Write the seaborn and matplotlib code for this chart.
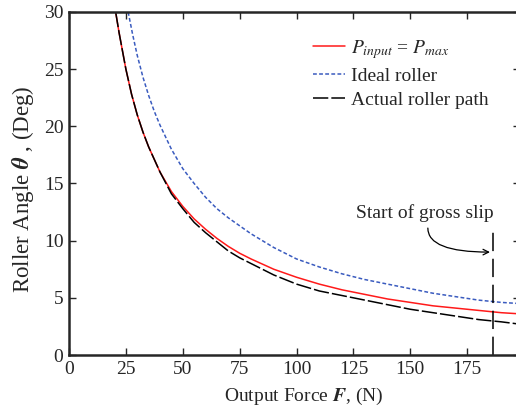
import matplotlib
matplotlib.use("Agg")
import matplotlib.pyplot as plt
import seaborn as sns
import pandas as pd

# values
force_pmax = [20.5, 22, 25, 27.5, 30, 32.5, 35, 40, 45, 50, 55, 60, 65, 70, 75, 80,
              90, 100, 110, 120, 130, 140, 150, 160, 170, 180, 190, 198]
angle_pmax = [30.0, 28.2, 25.0, 22.8, 21.0, 19.5, 18.2, 16.0, 14.3, 13.0, 11.9, 11.0,
              10.2, 9.5, 8.9, 8.4, 7.5, 6.8, 6.2, 5.7, 5.3, 4.9, 4.6, 4.3, 4.1, 3.9,
              3.7, 3.6]

force_ideal = [26, 28, 30, 32.5, 35, 37.5, 40, 45, 50, 55, 60, 65, 70, 75, 80, 90, 100,
               110, 120, 130, 140, 150, 160, 170, 180, 190, 198]
angle_ideal = [30.0, 28.0, 26.2, 24.3, 22.7, 21.3, 20.1, 18.0, 16.3, 15.0, 13.8, 12.8,
               12.0, 11.3, 10.6, 9.4, 8.4, 7.7, 7.1, 6.6, 6.2, 5.8, 5.4, 5.1, 4.8, 4.6,
               4.5]

force_actual = [20.5, 22, 25, 27.5, 30, 32.5, 35, 40, 45, 50, 55, 60, 65, 70, 75, 80,
                90, 100, 110, 120, 130, 140, 150, 160, 170, 180, 190, 198]
angle_actual = [30.0, 28.2, 25.0, 22.8, 21.0, 19.5, 18.2, 16.0, 14.1, 12.8, 11.6, 10.7,
                9.9, 9.1, 8.5, 8.0, 7.0, 6.2, 5.6, 5.2, 4.8, 4.4, 4.0, 3.7, 3.4, 3.1,
                2.9, 2.7]

slip_force = 186.3
slip_angle_top = 11.1

sns.set_style("ticks")
plt.rcParams["font.family"] = ["Liberation Serif", "DejaVu Serif"]
plt.rcParams["mathtext.fontset"] = "stix"

fig = plt.figure(figsize=(5.16, 4.09), dpi=100)
ax = fig.add_axes([69 / 516, 54 / 409, 451 / 516, 343 / 409])

df_pmax = pd.DataFrame({"F": force_pmax, "theta": angle_pmax})
df_ideal = pd.DataFrame({"F": force_ideal, "theta": angle_ideal})
df_actual = pd.DataFrame({"F": force_actual, "theta": angle_actual})

sns.lineplot(data=df_pmax, x="F", y="theta", ax=ax, color="#ff1a1a", lw=1.1,
             label=r"$P_{input}$ = $P_{max}$")
sns.lineplot(data=df_ideal, x="F", y="theta", ax=ax, color="#3a5bbf", lw=1.1,
             label="Ideal roller")
ax.lines[-1].set_dashes((2.5, 1.5))
sns.lineplot(data=df_actual, x="F", y="theta", ax=ax, color="black", lw=1.1,
             label="Actual roller path")
ax.lines[-1].set_dashes((10, 2))

ax.plot([slip_force, slip_force], [0, slip_angle_top], color="black", lw=1.1,
        dashes=(12, 5))
ax.text(156.5, 12.4, "Start of gross slip", ha="center", va="center", fontsize=14)
ax.annotate("", xy=(185, 9.0), xytext=(157.7, 11.1),
            arrowprops=dict(arrowstyle="->", color="black", lw=0.9,
                            shrinkA=0, shrinkB=0,
                            connectionstyle="angle3,angleA=-90,angleB=0"))

ax.set_xlim(0, 198.2)
ax.set_ylim(0, 30)
ax.set_xticks([0, 25, 50, 75, 100, 125, 150, 175])
ax.set_yticks([0, 5, 10, 15, 20, 25, 30])
ax.tick_params(direction="in", top=True, right=True, labelsize=14, length=5,
               width=1.0, pad=4)
for side in ["left", "bottom", "top", "right"]:
    ax.spines[side].set_linewidth(1.8)

ax.set_xlabel(r"Output Force $\boldsymbol{F}$, (N)", fontsize=14, labelpad=1)
ax.xaxis.set_label_coords(0.52, -0.09)
ax.set_ylabel(r"Roller Angle $\boldsymbol{\theta}$ , (Deg)", fontsize=16.5, labelpad=4)
ax.yaxis.set_label_coords(-0.074, 0.484)

leg = ax.legend(loc="upper right", bbox_to_anchor=(0.97, 0.975), frameon=False,
                fontsize=14, handlelength=1.6, handletextpad=0.35, labelspacing=0.32)

fig.savefig("out.png", dpi=100)
